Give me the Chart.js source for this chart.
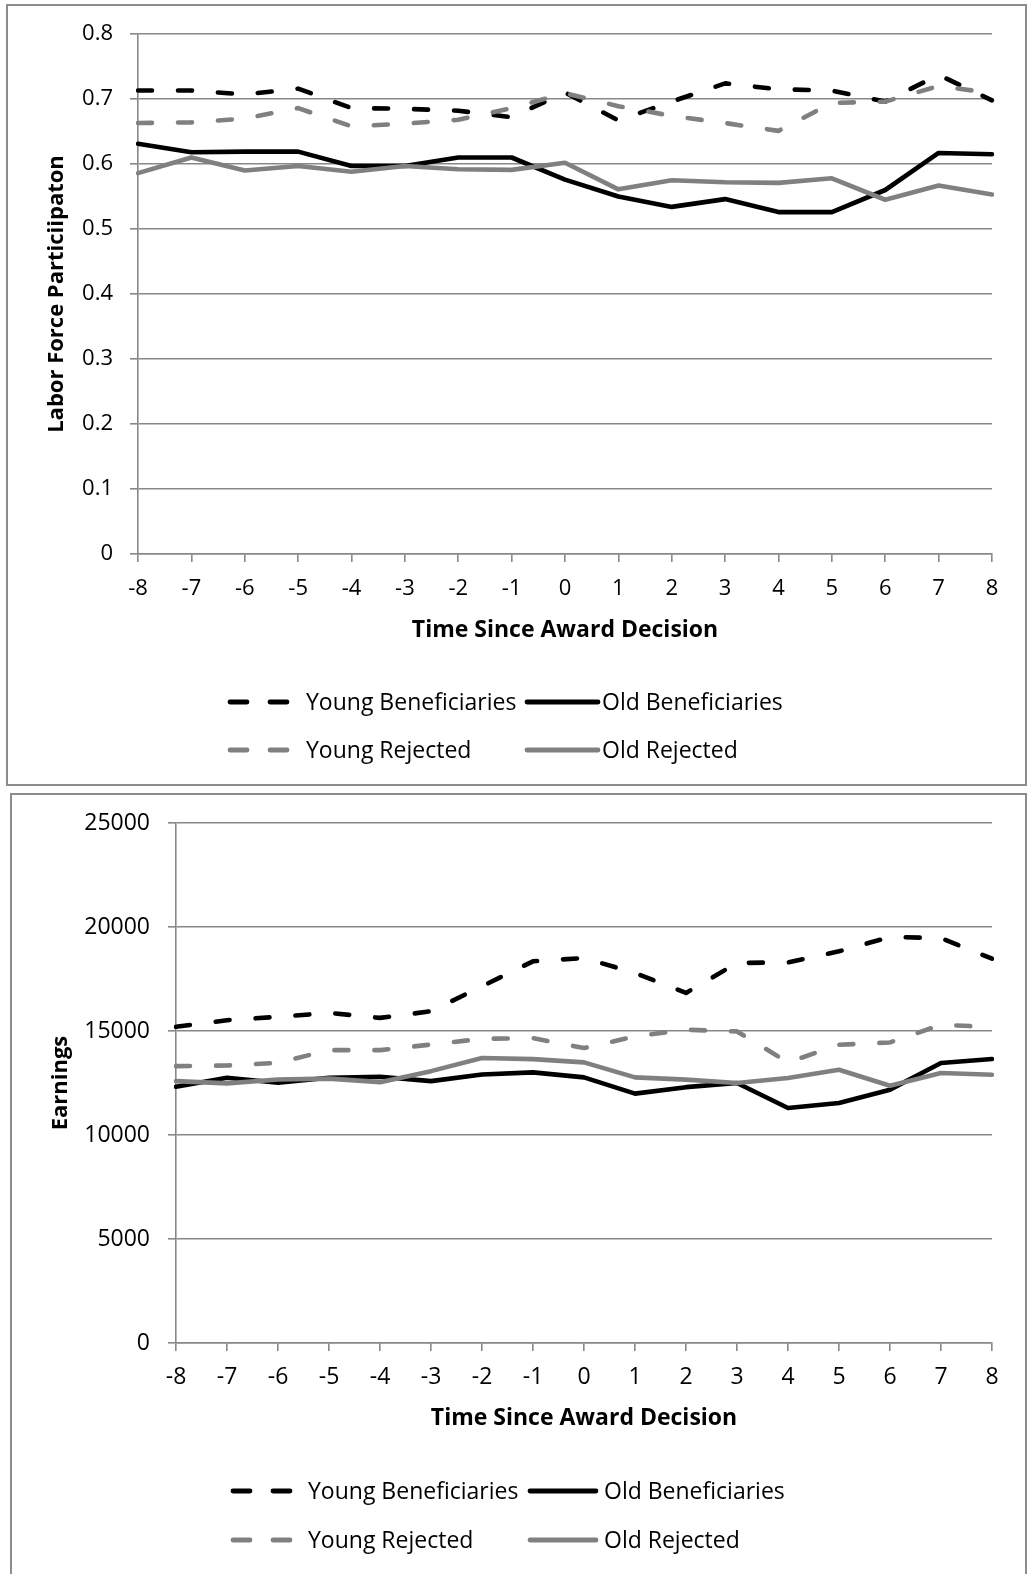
<!DOCTYPE html>
<html>
<head>
<meta charset="utf-8">
<script src="https://cdn.jsdelivr.net/npm/chart.js@4.4.1/dist/chart.umd.min.js"></script>
<style>
html, body { margin: 0; padding: 0; background: #fff; overflow: hidden; width: 1029px; height: 1574px; }
.box { position: absolute; box-sizing: border-box; border: 2px solid #8c8c8c; }
canvas { position: absolute; left: 0; }
</style>
</head>
<body>
<div class="box" style="left:6px;top:4px;width:1021px;height:782px;"></div>
<div class="box" style="left:10px;top:793px;width:1017px;height:820px;"></div>
<canvas id="c1" width="1029" height="790" style="top:0px;"></canvas>
<canvas id="c2" width="1029" height="784" style="top:790px;"></canvas>
<script>
// ---- Data ----
const timeLabels = ['-8','-7','-6','-5','-4','-3','-2','-1','0','1','2','3','4','5','6','7','8'];
const seriesNames = ['Young Beneficiaries', 'Old Beneficiaries', 'Young Rejected', 'Old Rejected'];

// Labor force participation
const lfpYoungBen = [0.713,0.713,0.707,0.716,0.686,0.685,0.682,0.672,0.710,0.667,0.696,0.724,0.715,0.713,0.696,0.737,0.698];
const lfpOldBen   = [0.631,0.618,0.619,0.619,0.597,0.597,0.610,0.610,0.576,0.550,0.534,0.546,0.526,0.526,0.560,0.617,0.615];
const lfpYoungRej = [0.663,0.664,0.670,0.686,0.658,0.662,0.668,0.686,0.709,0.689,0.674,0.663,0.651,0.694,0.696,0.720,0.709];
const lfpOldRej   = [0.586,0.610,0.590,0.597,0.588,0.597,0.592,0.591,0.602,0.561,0.575,0.572,0.571,0.578,0.545,0.567,0.553];

// Earnings
const earnYoungBen = [15200,15520,15680,15870,15630,15950,17150,18350,18510,17790,16830,18270,18300,18830,19520,19470,18480];
const earnOldBen   = [12320,12750,12510,12750,12800,12590,12910,13010,12770,11990,12300,12500,11300,11540,12180,13460,13650];
const earnYoungRej = [13310,13340,13470,14080,14080,14350,14625,14660,14180,14740,15060,14980,13490,14340,14450,15300,15190];
const earnOldRej   = [12590,12480,12670,12710,12540,13070,13700,13650,13490,12770,12660,12500,12740,13140,12370,12980,12900];

const lfpTicks = [0, 0.1, 0.2, 0.3, 0.4, 0.5, 0.6, 0.7, 0.8];
const earnTicks = [0, 5000, 10000, 15000, 20000, 25000];

// ---- Styles ----
const BLACK = '#000000';
const GRAY = '#808080';
const GRID = '#888888';
const FONT = '"Open Sans", "Liberation Sans", sans-serif';
const DATA_DASH = [14, 26];

function makeDatasets(yb, ob, yr, orj) {
  const base = { borderWidth: 4.6, pointRadius: 0, tension: 0, fill: false,
                 borderCapStyle: 'round', borderJoinStyle: 'round' };
  return [
    Object.assign({}, base, { label: seriesNames[0], data: yb, borderColor: BLACK, borderDash: DATA_DASH, order: 4 }),
    Object.assign({}, base, { label: seriesNames[1], data: ob, borderColor: BLACK, order: 3 }),
    Object.assign({}, base, { label: seriesNames[2], data: yr, borderColor: GRAY, borderDash: DATA_DASH, order: 2 }),
    Object.assign({}, base, { label: seriesNames[3], data: orj, borderColor: GRAY, order: 1 })
  ];
}

const gridLegend = {
  id: 'gridLegend',
  afterDraw(chart, args, opts) {
    const ctx = chart.ctx;
    const ds = chart.data.datasets;
    ctx.save();
    ds.forEach((d, i) => {
      const col = i % 2, row = Math.floor(i / 2);
      const y = opts.rowY[row];
      const s = opts.sampleX[col];
      ctx.beginPath();
      ctx.lineWidth = 4.8;
      ctx.lineCap = 'round';
      ctx.strokeStyle = d.borderColor;
      ctx.setLineDash(d.borderDash ? [17, 23] : []);
      ctx.moveTo(s[0], y);
      ctx.lineTo(s[1], y);
      ctx.stroke();
      ctx.setLineDash([]);
      ctx.fillStyle = '#000';
      ctx.font = '23px ' + FONT;
      ctx.textBaseline = 'alphabetic';
      ctx.textAlign = 'left';
      ctx.fillText(d.label, opts.textX[col], y + 8);
    });
    ctx.restore();
  }
};

function makeChart(id, cfg) {
  return new Chart(document.getElementById(id), {
    type: 'line',
    data: { labels: timeLabels, datasets: makeDatasets.apply(null, cfg.series) },
    plugins: [gridLegend],
    options: {
      responsive: false,
      animation: false,
      devicePixelRatio: 1,
      layout: { padding: cfg.padding },
      plugins: {
        legend: { display: false },
        tooltip: { enabled: false },
        gridLegend: cfg.legend
      },
      scales: {
        x: {
          type: 'category',
          offset: false,
          grid: { drawOnChartArea: false, drawTicks: true, tickLength: 8, color: GRID, lineWidth: 1.6 },
          border: { display: true, color: GRID, width: 1.6 },
          ticks: { color: '#000', font: { family: FONT, size: cfg.tickSize }, padding: cfg.xTickPad, maxRotation: 0, autoSkip: false },
          title: { display: true, text: 'Time Since Award Decision', color: '#000',
                   font: { family: FONT, size: 23, weight: 'bold' }, padding: { top: 0, bottom: cfg.xTitlePad } },
          afterFit: (s) => { s.height = 90; }
        },
        y: {
          min: cfg.yTicks[0],
          max: cfg.yTicks[cfg.yTicks.length - 1],
          afterBuildTicks: (s) => { s.ticks = cfg.yTicks.map(v => ({ value: v })); },
          grid: { drawTicks: true, tickLength: 8, color: GRID, lineWidth: 1.6 },
          border: { display: true, color: GRID, width: 1.6 },
          ticks: { color: '#000', font: { family: FONT, size: cfg.tickSize }, padding: cfg.yTickPad,
                   callback: (v) => String(Math.round(v * 1000) / 1000) },
          title: { display: true, text: cfg.yTitle, color: '#000',
                   font: { family: FONT, size: 22, weight: 'bold' }, padding: { top: cfg.yTitlePad, bottom: 0 } },
          afterFit: (s) => { s.width = cfg.yWidth; }
        }
      }
    }
  });
}

makeChart('c1', {
  series: [lfpYoungBen, lfpOldBen, lfpYoungRej, lfpOldRej],
  yTicks: lfpTicks,
  yTitle: 'Labor Force Particiipaton',
  padding: { left: 0, right: 37, top: 34, bottom: 146 },
  yWidth: 138,
  tickSize: 22,
  xTickPad: 14,
  yTickPad: 17,
  xTitlePad: 0,
  yTitlePad: 44,
  legend: { rowY: [702, 750], sampleX: [[230, 288], [527, 598]], textX: [306, 602] }
});

makeChart('c2', {
  series: [earnYoungBen, earnOldBen, earnYoungRej, earnOldRej],
  yTicks: earnTicks,
  yTitle: 'Earnings',
  padding: { left: 0, right: 37, top: 33, bottom: 141 },
  yWidth: 176,
  tickSize: 23,
  xTickPad: 13,
  yTickPad: 18,
  xTitlePad: 1,
  yTitlePad: 48,
  legend: { rowY: [701, 750], sampleX: [[233, 290], [530, 596]], textX: [308, 604] }
});
</script>
</body>
</html>
